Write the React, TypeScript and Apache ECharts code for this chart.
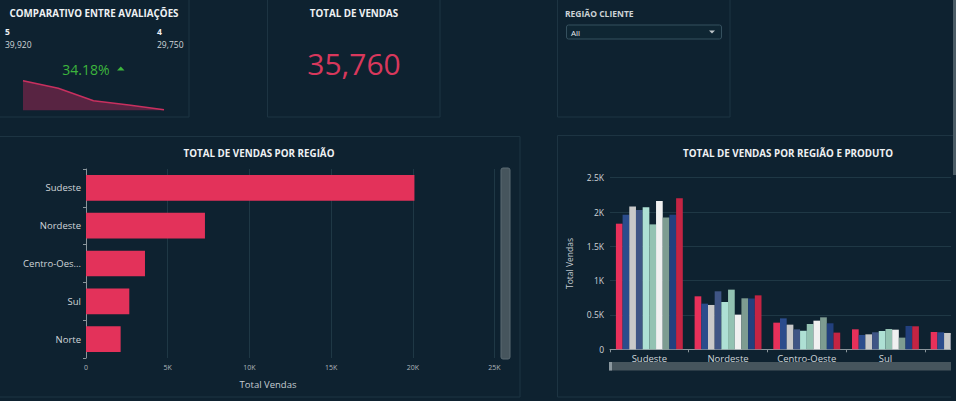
import { useEffect, useRef } from "react";
import * as echarts from "echarts";

// ---- data ----
const ratingLabels = ["5", "4", "3", "2", "1"];
const ratingSales = [39920, 29750, 12900, 7100, 600];

const totalVendas = 35760;

const regions = ["Sudeste", "Nordeste", "Centro-Oeste", "Sul", "Norte"];
const regionTotals = [20100, 7280, 3610, 2650, 2120];

const productNames = [
  "Produto 1", "Produto 2", "Produto 3", "Produto 4", "Produto 5",
  "Produto 6", "Produto 7", "Produto 8", "Produto 9", "Produto 10",
];
const productSales = [
  [1830, 772, 388, 291, 252],
  [1960, 665, 451, 209, 248],
  [2080, 646, 359, 218, 238],
  [2030, 845, 291, 248, 210],
  [2070, 689, 270, 267, 190],
  [1820, 869, 369, 296, 220],
  [2160, 505, 417, 286, 180],
  [1920, 743, 466, 170, 200],
  [1960, 740, 379, 340, 195],
  [2200, 786, 243, 335, 187],
];
const productColors = [
  "#E8305A", "#2B4C8C", "#C9C9C9", "#3F5585", "#AEE0D4",
  "#93C2B2", "#F0F0F0", "#7E9C91", "#22407E", "#C42443",
];

const regiaoFilter = "All";

const BG = "#0E2230";
const BORDER = "#1D3442";
const FONT = "'Open Sans', 'Noto Sans', sans-serif";

const fmtK = (v: number) => (v === 0 ? "0" : `${v / 1000}K`);
const fmtNum = (v: number) => v.toLocaleString("en-US");

export default function App() {
  const ref = useRef<HTMLDivElement>(null);
  useEffect(() => {
    if (!ref.current) return;
    const chart = echarts.init(ref.current, undefined, { renderer: "svg" });
    const pct = ((ratingSales[0] - ratingSales[1]) / ratingSales[1]) * 100;

    const panel = (x: number, y: number, w: number, h: number) => ({
      type: "rect",
      z: 0,
      shape: { x, y, width: w, height: h },
      style: { fill: BG, stroke: BORDER, lineWidth: 1 },
    });
    const txt = (
      x: number, y: number, text: string, size: number, opts: any = {}
    ) => ({
      type: "text",
      z: 10,
      x,
      y,
      style: {
        text,
        fontSize: size,
        fontFamily: FONT,
        fill: opts.fill || "#EEF1F3",
        fontWeight: opts.bold ? "bold" : "normal",
        textAlign: opts.align || "left",
        textVerticalAlign: "middle",
      },
    });

    const option: any = {
      animation: false,
      backgroundColor: BG,
      textStyle: { fontFamily: FONT },
      grid: [
        { left: 23, top: 80.7, width: 141, height: 29.6, outerBoundsMode: "none" },
        { left: 86, top: 169, width: 408.5, height: 189, outerBoundsMode: "none" },
        { left: 610, top: 177.7, width: 393.5, height: 171.6, outerBoundsMode: "none" },
      ],
      xAxis: [
        { gridIndex: 0, type: "category", data: ratingLabels, boundaryGap: false, show: false },
        {
          gridIndex: 1, type: "value", min: 0, max: 25000, interval: 5000,
          axisLine: { show: false }, axisTick: { show: false },
          axisLabel: { formatter: fmtK, fontSize: 7, color: "#AEB6BB", margin: 6 },
          splitLine: { lineStyle: { color: "#1F3845" } },
        },
        {
          gridIndex: 2, type: "category", data: regions,
          axisLine: { lineStyle: { color: "#8A959B" } },
          axisTick: { show: true, length: 3, interval: 0, lineStyle: { color: "#8A959B" } },
          axisLabel: {
            fontSize: 9.5, color: "#D0D5D9", margin: 4,
            // the last category is scrolled out of view in the panel
            interval: (idx: number) => idx < regions.length - 1,
          },
        },
      ],
      yAxis: [
        { gridIndex: 0, type: "value", min: 0, max: "dataMax", show: false },
        {
          gridIndex: 1, type: "category", data: regions, inverse: true,
          axisLine: { lineStyle: { color: "#8A959B" } },
          axisTick: { show: true, length: 3, lineStyle: { color: "#8A959B" } },
          axisLabel: {
            fontSize: 9.5, color: "#D0D5D9", margin: 5,
            width: 60, overflow: "truncate", ellipsis: "...",
          },
        },
        {
          gridIndex: 2, type: "value", min: 0, max: 2500, interval: 500,
          name: "Total Vendas", nameLocation: "middle", nameGap: 36,
          nameTextStyle: { fontSize: 8.5, color: "#C5CCD0" },
          axisLine: { show: false }, axisTick: { show: false },
          axisLabel: { formatter: fmtK, fontSize: 8.5, color: "#D0D5D9", margin: 6 },
          splitLine: { lineStyle: { color: "#1F3845" } },
        },
      ],
      series: [
        {
          type: "line", xAxisIndex: 0, yAxisIndex: 0, data: ratingSales,
          symbol: "none",
          lineStyle: { color: "#C8305F", width: 1.5 },
          areaStyle: { color: "rgba(165,38,85,0.7)" },
        },
        {
          type: "bar", xAxisIndex: 1, yAxisIndex: 1, data: regionTotals,
          barCategoryGap: "32%",
          itemStyle: { color: "#E3325A" },
        },
        ...productSales.map((d, i) => ({
          type: "bar", name: productNames[i], xAxisIndex: 2, yAxisIndex: 2,
          data: d, barGap: "0%", barCategoryGap: "15%",
          itemStyle: { color: productColors[i] },
        })),
      ],
      graphic: [
        panel(-2, -2, 191, 119),
        panel(267.5, -2, 172.5, 119),
        panel(557.5, -2, 172.5, 119),
        panel(-2, 136.5, 522, 260.5),
        panel(557.5, 135.5, 410, 261.5),
        // top-left KPI
        txt(94, 13, "COMPARATIVO ENTRE AVALIAÇÕES", 9.8, { bold: true, align: "center" }),
        txt(5, 31, ratingLabels[0], 8.5, { bold: true }),
        txt(5, 44, fmtNum(ratingSales[0]), 8.5, { fill: "#D0D5D8" }),
        txt(157, 31, ratingLabels[1], 8.5, { bold: true }),
        txt(157, 44, fmtNum(ratingSales[1]), 8.5, { fill: "#D0D5D8" }),
        txt(86, 69, `${pct.toFixed(2)}%`, 14, { fill: "#3DB53D", align: "center" }),
        {
          type: "polygon", z: 10,
          shape: { points: [[117, 70.5], [124.5, 70.5], [120.75, 66.5]] },
          style: { fill: "#3DB53D" },
        },
        // top-middle KPI
        txt(354, 13, "TOTAL DE VENDAS", 9.8, { bold: true, align: "center" }),
        txt(354, 63, fmtNum(totalVendas), 30, { fill: "#D8385C", align: "center" }),
        // filter
        txt(565, 13, "REGIÃO CLIENTE", 8.5, { bold: true, fill: "#CDD3D6" }),
        {
          type: "rect", z: 5,
          shape: { x: 566.5, y: 25, width: 155, height: 14, r: 2 },
          style: { fill: "#0F2633", stroke: "#35505E", lineWidth: 1 },
        },
        txt(571, 32, regiaoFilter, 8, { fill: "#E6EAEC" }),
        {
          type: "polygon", z: 10,
          shape: { points: [[709, 30.5], [715, 30.5], [712, 33.5]] },
          style: { fill: "#C0C6CA" },
        },
        // chart titles
        txt(259, 153, "TOTAL DE VENDAS POR REGIÃO", 9.8, { bold: true, align: "center" }),
        txt(788, 153, "TOTAL DE VENDAS POR REGIÃO E PRODUTO", 9.8, { bold: true, align: "center" }),
        txt(268, 384, "Total Vendas", 9.5, { fill: "#C5CCD0", align: "center" }),
        // left chart vertical scrollbar
        {
          type: "rect", z: 5,
          shape: { x: 501, y: 168, width: 9, height: 191, r: 2 },
          style: { fill: "#46555D", stroke: "#5A6A72", lineWidth: 1 },
        },
        // cover for clipped bars
        {
          type: "rect", z: 50,
          shape: { x: 951, y: 136, width: 10, height: 262 },
          style: { fill: BG },
        },
        // right chart horizontal scrollbar
        {
          type: "rect", z: 51,
          shape: { x: 609, y: 362, width: 342, height: 8.5 },
          style: { fill: "#46555D" },
        },
        {
          type: "rect", z: 52,
          shape: { x: 609, y: 362, width: 3, height: 8.5 },
          style: { fill: "#8A979E" },
        },
        // page scrollbar
        {
          type: "rect", z: 60,
          shape: { x: 953, y: 0, width: 3, height: 175 },
          style: { fill: "#4B5C66" },
        },
      ],
    };
    chart.setOption(option);
    return () => chart.dispose();
  }, []);

  return (
    <div
      ref={ref}
      style={{ position: "fixed", left: 0, top: 0, width: 956, height: 401 }}
    />
  );
}
